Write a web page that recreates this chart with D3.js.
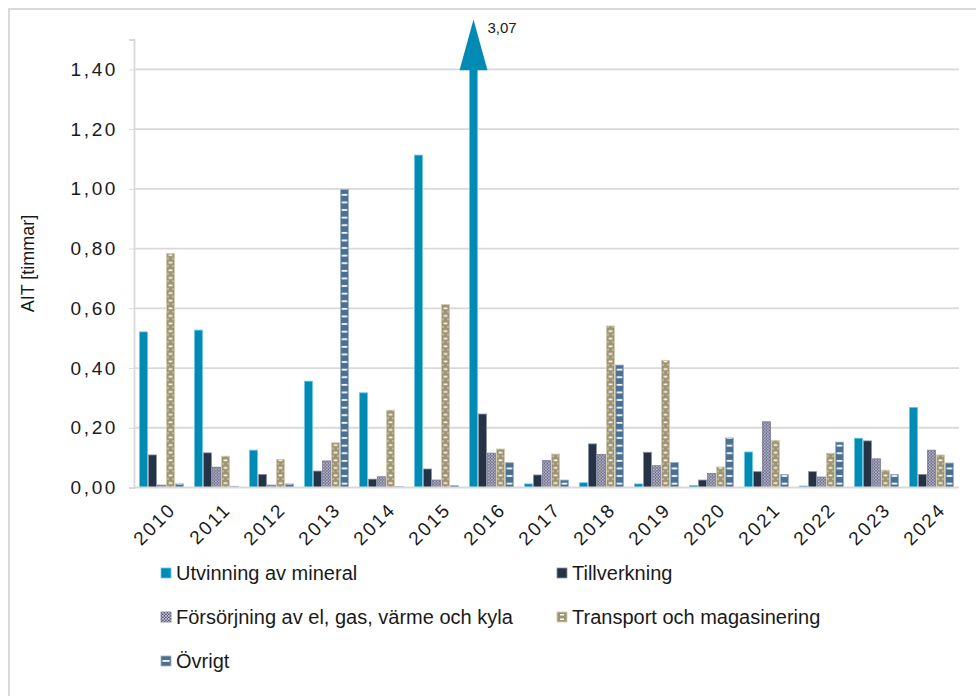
<!DOCTYPE html>
<html>
<head>
<meta charset="utf-8">
<script src="https://cdn.jsdelivr.net/npm/d3@7"></script>
<style>
  body { margin: 0; background: #fff; }
  text { font-family: "Liberation Sans", Arial, sans-serif; fill: #1a1a1a; }
</style>
</head>
<body>
<div id="chart"></div>
<script>
// data
const years = ["2010","2011","2012","2013","2014","2015","2016","2017","2018","2019","2020","2021","2022","2023","2024"];
const seriesNames = ["Utvinning av mineral","Tillverkning","Försörjning av el, gas, värme och kyla","Transport och magasinering","Övrigt"];
const utvinning    = [0.521,0.527,0.125,0.356,0.317,1.113,3.07,0.012,0.016,0.012,0.007,0.119,0.005,0.165,0.268];
const tillverkning = [0.109,0.116,0.044,0.055,0.028,0.062,0.246,0.042,0.146,0.118,0.025,0.053,0.053,0.156,0.044];
const forsorjning  = [0.008,0.068,0.008,0.089,0.036,0.025,0.115,0.090,0.111,0.073,0.047,0.220,0.035,0.096,0.125];
const transport    = [0.784,0.105,0.094,0.150,0.259,0.613,0.129,0.112,0.541,0.426,0.069,0.158,0.115,0.058,0.109];
const ovrigt       = [0.012,0.004,0.012,0.998,0.003,0.006,0.083,0.025,0.410,0.084,0.166,0.044,0.152,0.044,0.082];
const yTicks = [0,0.2,0.4,0.6,0.8,1.0,1.2,1.4];
const yMax = 1.5;
const capValue = 1.4;       // bars above this are cut and get an arrow
const arrowTipValue = 1.567;

const seriesValues = [utvinning, tillverkning, forsorjning, transport, ovrigt];

const width = 976, height = 696;
const margin = {top: 39.5, left: 134, right: 17, bottom: 208.5};
const iwidth = width - margin.left - margin.right;
const iheight = height - margin.top - margin.bottom;

const fmt = v => d3.format(".2f")(v).replace(".", ",");

const svg = d3.select("#chart").append("svg")
  .attr("width", width)
  .attr("height", height);

const defs = svg.append("defs");

// checkered fill for Försörjning
const chk = defs.append("pattern")
  .attr("id", "chk")
  .attr("patternUnits", "userSpaceOnUse")
  .attr("width", 3).attr("height", 3);
chk.append("rect").attr("width", 3).attr("height", 3).attr("fill", "#55557a");
chk.append("rect").attr("x", 0.2).attr("y", 0.2).attr("width", 1.4).attr("height", 1.4).attr("fill", "#ffffff");
chk.append("rect").attr("x", 1.7).attr("y", 1.7).attr("width", 1.2).attr("height", 1.2).attr("fill", "#e6e6ee");

// frame
svg.append("path")
  .attr("d", `M9,${height} V9 H${width}`)
  .attr("fill", "none")
  .attr("stroke", "#d9d9d9")
  .attr("stroke-width", 2);

const g = svg.append("g").attr("transform", `translate(${margin.left},${margin.top})`);

const x0 = d3.scaleBand()
  .domain(years)
  .range([0, iwidth])
  .paddingInner(10 / 55)
  .paddingOuter(5 / 55);

const x1 = d3.scaleBand()
  .domain(d3.range(seriesNames.length))
  .range([0, x0.bandwidth()]);

const y = d3.scaleLinear()
  .domain([0, yMax])
  .range([iheight, 0]);

// gridlines
g.append("g")
  .selectAll("line")
  .data(yTicks.filter(d => d > 0))
  .join("line")
  .attr("x1", 0).attr("x2", iwidth)
  .attr("y1", d => y(d)).attr("y2", d => y(d))
  .attr("stroke", "#d9d9d9")
  .attr("stroke-width", 1.8);

// y axis
const yAxis = g.append("g")
  .call(d3.axisLeft(y).tickValues(yTicks).tickFormat(fmt).tickSize(5).tickPadding(11));
yAxis.select(".domain").attr("stroke", "#d9d9d9").attr("stroke-width", 1.8);
yAxis.selectAll(".tick line").attr("stroke", "#d9d9d9");
yAxis.selectAll(".tick text")
  .style("font-size", "19px")
  .style("letter-spacing", "2.6px")
  .attr("fill", "#1a1a1a");

svg.append("text")
  .attr("transform", `translate(34,${margin.top + y(0.75)}) rotate(-90)`)
  .attr("text-anchor", "middle")
  .style("font-size", "18px")
  .text("AIT [timmar]");

const fills = ["#008bb5", "#263245", "url(#chk)", "#9e9472", "#4b7091"];
const strokes = ["#6cc6e2", "#8993a1", "#7a7a98", "#d3ccb0", "#9cb3c8"];

const bw = x1.bandwidth() - 1;

seriesValues.forEach((vals, s) => {
  const bars = g.append("g").attr("class", "series-" + s);
  vals.forEach((v, i) => {
    const bx = x0(years[i]) + x1(s) + 0.5;
    const vv = Math.min(v, capValue);
    const top = y(vv);
    const h = y(0) - top;
    let fill = fills[s];
    if (s === 3 || s === 4) {
      const pid = `p${s}_${i}`;
      const p = defs.append("pattern")
        .attr("id", pid)
        .attr("patternUnits", "userSpaceOnUse")
        .attr("x", bx).attr("y", y(0))
        .attr("width", bw).attr("height", 7.6);
      p.append("rect").attr("width", bw).attr("height", 7.6).attr("fill", fills[s]);
      if (s === 4) {
        p.append("rect").attr("x", (bw - 5.5) / 2).attr("y", 2.8)
          .attr("width", 5.5).attr("height", 1.8).attr("fill", "#ffffff");
      } else {
        p.append("rect").attr("x", (bw - 3.6) / 2).attr("y", 2.4)
          .attr("width", 3.6).attr("height", 1.6).attr("fill", "#ffffff");
        p.append("rect").attr("x", 1).attr("y", 6.1)
          .attr("width", 1.1).attr("height", 1.1).attr("fill", "#ffffff");
        p.append("rect").attr("x", bw - 2.1).attr("y", 6.1)
          .attr("width", 1.1).attr("height", 1.1).attr("fill", "#ffffff");
      }
      fill = `url(#${pid})`;
    }
    bars.append("rect")
      .attr("x", bx)
      .attr("y", top)
      .attr("width", bw)
      .attr("height", Math.max(h, 0.6))
      .attr("fill", fill)
      .attr("stroke", strokes[s])
      .attr("stroke-width", 0.8);

    if (v > capValue) {
      const cx = bx + bw / 2;
      g.append("path")
        .attr("d", `M${cx - 14},${top + 1} L${cx + 14},${top + 1} L${cx},${y(arrowTipValue)} Z`)
        .attr("fill", fills[s]);
      g.append("text")
        .attr("x", cx + 14)
        .attr("y", y(arrowTipValue) + 13)
        .style("font-size", "15px")
        .text(d3.format(".2f")(v).replace(".", ","));
    }
  });
});

// x axis line
g.append("line")
  .attr("x1", 0).attr("x2", iwidth)
  .attr("y1", y(0)).attr("y2", y(0))
  .attr("stroke", "#d9d9d9")
  .attr("stroke-width", 2);

// x labels
g.append("g")
  .selectAll("text")
  .data(years)
  .join("text")
  .attr("transform", d => `translate(${x0(d) + x0.bandwidth() / 2 + 6},${y(0) + 14}) rotate(-45)`)
  .attr("text-anchor", "end")
  .attr("dy", "0.7em")
  .style("font-size", "19px")
  .style("letter-spacing", "2px")
  .text(d => d);

// legend
const legendPos = [[161, 573], [557, 573], [161, 617], [557, 617], [161, 661]];
const legend = svg.append("g");
seriesNames.forEach((name, s) => {
  const [lx, ly] = legendPos[s];
  let fill = fills[s];
  if (s === 3 || s === 4) {
    const p = defs.append("pattern")
      .attr("id", "leg" + s)
      .attr("patternUnits", "userSpaceOnUse")
      .attr("x", lx).attr("y", ly - 5)
      .attr("width", 10).attr("height", 10);
    p.append("rect").attr("width", 10).attr("height", 10).attr("fill", fills[s]);
    if (s === 4) {
      p.append("rect").attr("x", 1.5).attr("y", 4).attr("width", 7).attr("height", 1.8).attr("fill", "#fff");
    } else {
      p.append("rect").attr("x", 3).attr("y", 2).attr("width", 4).attr("height", 1.5).attr("fill", "#fff");
      p.append("rect").attr("x", 3).attr("y", 6.5).attr("width", 4).attr("height", 1.5).attr("fill", "#fff");
    }
    fill = `url(#leg${s})`;
  }
  legend.append("rect")
    .attr("x", lx).attr("y", ly - 5)
    .attr("width", 10).attr("height", 10)
    .attr("fill", fill)
    .attr("stroke", strokes[s])
    .attr("stroke-width", 0.8);
  legend.append("text")
    .attr("x", lx + 15)
    .attr("y", ly + 7)
    .style("font-size", "20px")
    .text(name);
});
</script>
</body>
</html>
